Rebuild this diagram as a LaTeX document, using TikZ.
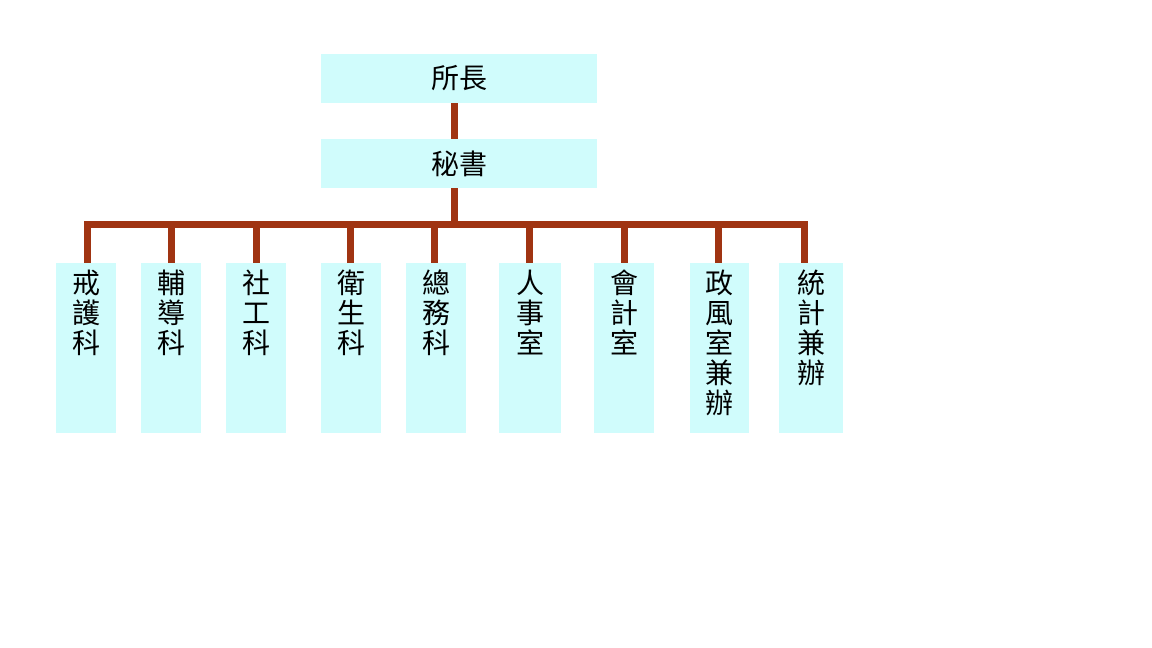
\documentclass[tikz,border=0pt]{standalone}
\usepackage{fontspec}
\newfontfamily\cjk{Noto Sans CJK TC}
\definecolor{boxfill}{RGB}{208,252,252}
\definecolor{conncol}{RGB}{160,52,18}
\begin{document}
\begin{tikzpicture}[x=1pt,y=1pt,
  box/.style={draw=none,fill=boxfill,inner sep=0pt},
  topbox/.style={box,minimum width=276pt,minimum height=49pt,font=\cjk\fontsize{28}{30}\selectfont},
  unitbox/.style={box,minimum height=170pt},
  unitlabel/.style={anchor=north,align=center,inner sep=0pt,yshift=-7pt,font=\cjk\fontsize{28}{30}\selectfont},
  conn/.style={draw=conncol,line width=7pt}]
\useasboundingbox (0,0) rectangle (1152,648);
% top boxes
\node[topbox] (chief) at (459,569.5) {所長};
\node[topbox] (sec) at (459,484.5) {秘書};
% unit boxes
\node[unitbox,minimum width=60pt,label={[unitlabel]north:戒\\護\\科}] (b1) at (86,300) {};
\node[unitbox,minimum width=60pt,label={[unitlabel]north:輔\\導\\科}] (b2) at (171,300) {};
\node[unitbox,minimum width=60pt,label={[unitlabel]north:社\\工\\科}] (b3) at (256,300) {};
\node[unitbox,minimum width=60pt,label={[unitlabel]north:衛\\生\\科}] (b4) at (351,300) {};
\node[unitbox,minimum width=60pt,label={[unitlabel]north:總\\務\\科}] (b5) at (436,300) {};
\node[unitbox,minimum width=62pt,label={[unitlabel]north:人\\事\\室}] (b6) at (530,300) {};
\node[unitbox,minimum width=60pt,label={[unitlabel]north:會\\計\\室}] (b7) at (624,300) {};
\node[unitbox,minimum width=59pt,label={[unitlabel]north:政\\風\\室\\兼\\辦}] (b8) at (719.5,300) {};
\node[unitbox,minimum width=64pt,label={[unitlabel]north:統\\計\\兼\\辦}] (b9) at (811,300) {};
% bus coordinates
\coordinate (trunk) at (454,423);
\coordinate (d1) at (87,423);
\coordinate (d2) at (171,423);
\coordinate (d3) at (256,423);
\coordinate (d4) at (350,423);
\coordinate (d5) at (434,423);
\coordinate (d6) at (529,423);
\coordinate (d7) at (624,423);
\coordinate (d8) at (718,423);
\coordinate (d9) at (804,423);
% connectors
\draw[conn] (chief.south -| trunk) -- (sec.north -| trunk);
\draw[conn] (sec.south -| trunk) -- (trunk);
\draw[conn] (b1.north -| d1) -- (d1) -- (d9) -- (b9.north -| d9);
\foreach \i in {2,...,8} {\draw[conn] (d\i) -- (b\i.north -| d\i);}
\end{tikzpicture}
\end{document}
